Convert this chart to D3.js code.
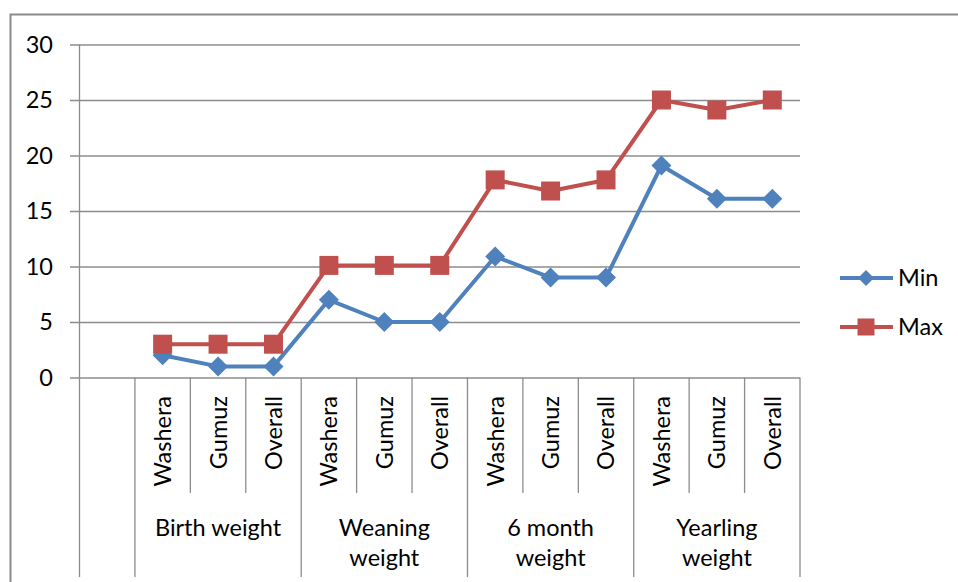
<!DOCTYPE html>
<html>
<head>
<meta charset="utf-8">
<script src="https://cdn.jsdelivr.net/npm/d3@7"></script>
<style>
  html, body { margin: 0; padding: 0; background: #fff; }
  svg { display: block; }
  text { font-family: Lato, "Open Sans", sans-serif; fill: #000; }
</style>
</head>
<body>
<svg id="chart" width="958" height="582"></svg>
<script>
// ---- data ----
const groups = ["Birth weight", "Weaning weight", "6 month weight", "Yearling weight"];
const groupLines = [["Birth weight"], ["Weaning", "weight"], ["6 month", "weight"], ["Yearling", "weight"]];
const breeds = ["Washera", "Gumuz", "Overall"];
const minValues = [2, 1, 1, 7, 5, 5, 10.9, 9, 9, 19.1, 16.1, 16.1];
const maxValues = [3, 3, 3, 10.1, 10.1, 10.1, 17.8, 16.8, 17.8, 25, 24.1, 25];
const yTicks = [0, 5, 10, 15, 20, 25, 30];
const seriesNames = ["Min", "Max"];
const seriesColors = ["#4F81BD", "#C0504D"];

// ---- layout ----
const svg = d3.select("#chart");
const plotL = 79.5, plotR = 800, plotT = 44.5, plotB = 377.5;
const axisBottom = 577, shortBottom = 493;
const fs = 23.5;

const keys = [];
groups.forEach(g => breeds.forEach(b => keys.push(g + "|" + b)));
const x = d3.scaleBand().domain(["__blank__"].concat(keys)).range([plotL, plotR]).padding(0);
const y = d3.scaleLinear().domain([0, 30]).range([plotB, plotT]);
const cx = k => x(k) + x.bandwidth() / 2;

// outer border
svg.append("rect").attr("x", 10.5).attr("y", 14.5).attr("width", 960).attr("height", 600)
  .attr("fill", "none").attr("stroke", "#8a8a8a").attr("stroke-width", 2);

const gridColor = "#8c8c8c";

// gridlines + y labels
const yAxis = d3.axisLeft(y).tickValues(yTicks).tickSize(plotR - 70).tickPadding(17).tickFormat(d3.format("d"));
const gy = svg.append("g").attr("transform", `translate(${plotR},0)`).call(yAxis);
gy.select(".domain").remove();
gy.selectAll(".tick line").attr("stroke", gridColor).attr("stroke-width", 1.3);
gy.selectAll(".tick text").attr("font-size", fs).attr("fill", "#000")
  .style("font-family", "Lato, 'Open Sans', sans-serif");

// y axis line (extends down through category area)
svg.append("line").attr("x1", plotL).attr("x2", plotL).attr("y1", plotT).attr("y2", axisBottom)
  .attr("stroke", gridColor).attr("stroke-width", 1.3);

// category separators
const bounds = [x("__blank__") + x.bandwidth()].concat(keys.map(k => x(k) + x.bandwidth()));
bounds.forEach((bx, i) => {
  const isGroup = i % 3 === 0;
  svg.append("line").attr("x1", bx).attr("x2", bx).attr("y1", plotB)
    .attr("y2", isGroup ? axisBottom : shortBottom)
    .attr("stroke", gridColor).attr("stroke-width", 1.3);
});

// sub labels (rotated)
keys.forEach((k, i) => {
  svg.append("text")
    .attr("transform", `translate(${cx(k)},396) rotate(-90)`)
    .attr("text-anchor", "end").attr("dy", "0.36em")
    .attr("font-size", fs)
    .text(breeds[i % 3]);
});

// group labels
groups.forEach((g, gi) => {
  const k0 = keys[gi * 3], k2 = keys[gi * 3 + 2];
  const gx = (x(k0) + x(k2) + x.bandwidth()) / 2;
  const t = svg.append("text").attr("text-anchor", "middle").attr("font-size", fs);
  groupLines[gi].forEach((ln, li) => {
    t.append("tspan").attr("x", gx).attr("y", 536 + li * 30).text(ln);
  });
});

// series
const series = [minValues, maxValues];
const diamond = s => `M0,${-s}L${s},0L0,${s}L${-s},0Z`;
series.forEach((vals, si) => {
  const pts = keys.map((k, i) => [cx(k), y(vals[i])]);
  svg.append("path").attr("d", d3.line()(pts)).attr("fill", "none")
    .attr("stroke", seriesColors[si]).attr("stroke-width", 4).attr("stroke-linejoin", "round");
  pts.forEach(p => {
    if (si === 0) {
      svg.append("path").attr("d", diamond(10)).attr("transform", `translate(${p[0]},${p[1]})`)
        .attr("fill", seriesColors[si]);
    } else {
      svg.append("rect").attr("x", p[0] - 9.5).attr("y", p[1] - 9.5).attr("width", 19).attr("height", 19)
        .attr("fill", seriesColors[si]);
    }
  });
});

// legend
seriesNames.forEach((name, si) => {
  const ly = 278 + si * 49;
  svg.append("line").attr("x1", 840).attr("x2", 893).attr("y1", ly).attr("y2", ly)
    .attr("stroke", seriesColors[si]).attr("stroke-width", 4);
  if (si === 0) {
    svg.append("path").attr("d", diamond(8)).attr("transform", `translate(866,${ly})`).attr("fill", seriesColors[si]);
  } else {
    svg.append("rect").attr("x", 866 - 8.5).attr("y", ly - 8.5).attr("width", 17).attr("height", 17).attr("fill", seriesColors[si]);
  }
  svg.append("text").attr("x", 898).attr("y", ly).attr("dy", "0.36em").attr("font-size", fs).text(name);
});
</script>
</body>
</html>
